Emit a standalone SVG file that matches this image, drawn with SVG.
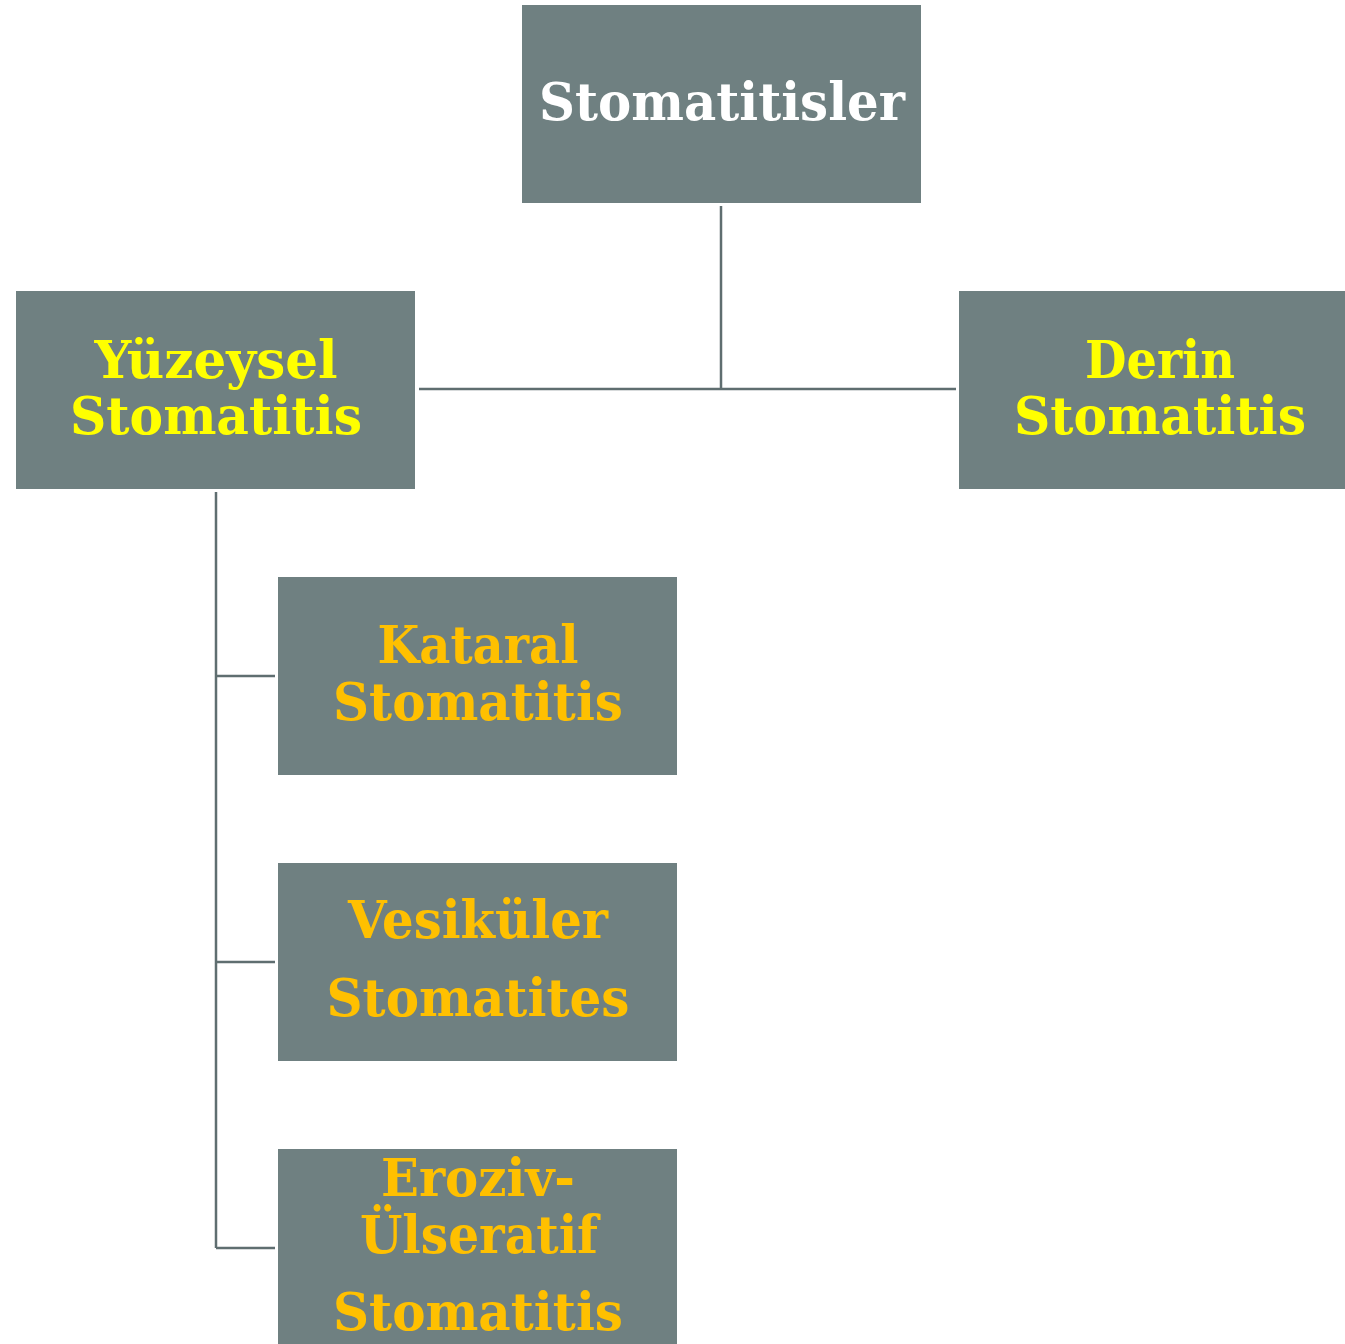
<svg xmlns="http://www.w3.org/2000/svg" width="1345" height="1344" viewBox="0 0 1345 1344">
<style>
.box{fill:#6f8081;}
.t{font-family:"DejaVu Serif","Liberation Serif",serif;font-weight:bold;font-size:52px;text-anchor:middle;}
.w{fill:#ffffff;}
.y{fill:#ffff00;}
.o{fill:#ffc000;}
.c{stroke:#5f6e70;stroke-width:2.5;fill:none;}
</style>
<rect width="1345" height="1344" fill="#ffffff"/>
<g id="connectors">
<path class="c" d="M721 206V389M419 389H956"/>
<path class="c" d="M216 492V1248M216 676H275M216 962H275M216 1248H275"/>
</g>
<g id="n-root">
<rect class="box" x="522" y="5" width="399" height="198"/>
<text class="t w" x="722" y="120" textLength="366" lengthAdjust="spacingAndGlyphs">Stomatitisler</text>
</g>
<g id="n-yuzeysel">
<rect class="box" x="16" y="291" width="399" height="198"/>
<text class="t y" x="216" y="378" textLength="243" lengthAdjust="spacingAndGlyphs">Yüzeysel</text>
<text class="t y" x="216" y="434" textLength="292" lengthAdjust="spacingAndGlyphs">Stomatitis</text>
</g>
<g id="n-derin">
<rect class="box" x="959" y="291" width="390" height="198"/>
<text class="t y" x="1160" y="378" textLength="150" lengthAdjust="spacingAndGlyphs">Derin</text>
<text class="t y" x="1160" y="434" textLength="292" lengthAdjust="spacingAndGlyphs">Stomatitis</text>
</g>
<g id="n-kataral">
<rect class="box" x="278" y="577" width="399" height="198"/>
<text class="t o" x="478" y="663" textLength="201" lengthAdjust="spacingAndGlyphs">Kataral</text>
<text class="t o" x="478" y="720" textLength="290" lengthAdjust="spacingAndGlyphs">Stomatitis</text>
</g>
<g id="n-vesikuler">
<rect class="box" x="278" y="863" width="399" height="198"/>
<text class="t o" x="478" y="938" textLength="260" lengthAdjust="spacingAndGlyphs">Vesiküler</text>
<text class="t o" x="478" y="1016" textLength="303" lengthAdjust="spacingAndGlyphs">Stomatites</text>
</g>
<g id="n-eroziv">
<rect class="box" x="278" y="1149" width="399" height="200"/>
<text class="t o" x="478" y="1196" textLength="194" lengthAdjust="spacingAndGlyphs">Eroziv-</text>
<text class="t o" x="479" y="1253" textLength="238" lengthAdjust="spacingAndGlyphs">Ülseratif</text>
<text class="t o" x="478" y="1330" textLength="290" lengthAdjust="spacingAndGlyphs">Stomatitis</text>
</g>
</svg>
